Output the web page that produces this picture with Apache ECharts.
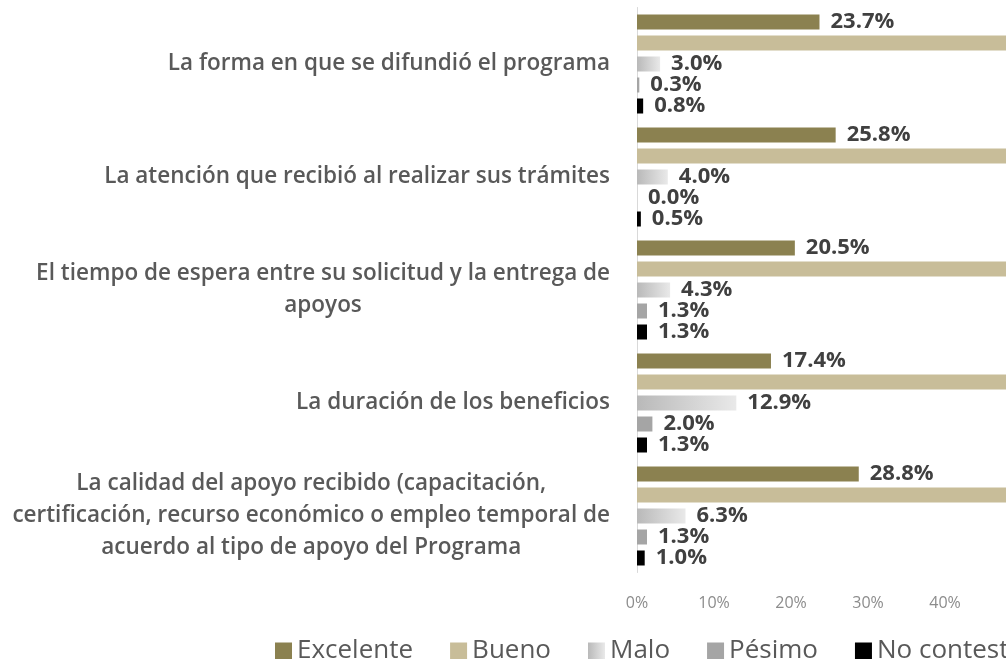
<!DOCTYPE html>
<html><head><meta charset="utf-8">
<script src="https://cdn.jsdelivr.net/npm/echarts@6/dist/echarts.min.js"></script>
<style>html,body{margin:0;padding:0;background:#fff;overflow:hidden;width:1006px;height:659px}#c{width:1253px;height:659px}</style>
</head><body><div id="c"></div>
<script>
const categories = [
  "La forma en que se difundió el programa",
  "La atención que recibió al realizar sus trámites",
  "El tiempo de espera entre su solicitud y la entrega de\napoyos",
  "La duración de los beneficios",
  "La calidad del apoyo recibido (capacitación,\ncertificación, recurso económico o empleo temporal de\nacuerdo al tipo de apoyo del Programa"
];
const seriesNames = ["Excelente", "Bueno", "Malo", "Pésimo", "No contesta"];
const excelente = [23.7, 25.8, 20.5, 17.4, 28.8];
const bueno = [72.2, 69.7, 72.6, 66.4, 62.6];
const malo = [3.0, 4.0, 4.3, 12.9, 6.3];
const pesimo = [0.3, 0.0, 1.3, 2.0, 1.3];
const noContesta = [0.8, 0.5, 1.3, 1.3, 1.0];
const xTicks = [0, 10, 20, 30, 40, 50, 60, 70, 80];

const FONT = "'Open Sans', 'DejaVu Sans', sans-serif";
const colors = [
  '#8b8150',
  '#c8bd99',
  new echarts.graphic.LinearGradient(0, 0, 1, 0, [{offset: 0, color: '#b9b9b9'}, {offset: 1, color: '#e9e9e9'}]),
  '#a5a5a5',
  '#000000'
];
const values = [excelente, bueno, malo, pesimo, noContesta];

const chart = echarts.init(document.getElementById('c'), null, {renderer: 'canvas'});
chart.setOption({
  animation: false,
  textStyle: {fontFamily: FONT},
  grid: {left: 637, right: 0, top: 7.5, bottom: 86.5, containLabel: false, outerBoundsMode: 'none'},
  legend: {
    data: seriesNames,
    left: 270, top: 633,
    itemWidth: 17, itemHeight: 17, itemGap: 37, icon: 'rect',
    textStyle: {fontFamily: FONT, fontSize: 26, color: '#595959'}
  },
  xAxis: {
    type: 'value', min: 0, max: xTicks[xTicks.length - 1], interval: 10,
    axisLine: {show: false}, axisTick: {show: false}, splitLine: {show: false},
    axisLabel: {formatter: v => v + '%', color: '#8c8c8c', fontSize: 16, fontFamily: FONT, margin: 23}
  },
  yAxis: {
    type: 'category', data: categories, inverse: true,
    axisLine: {show: true, lineStyle: {color: '#d9d9d9', width: 1}},
    axisTick: {show: false},
    axisLabel: {
      margin: 27, color: '#595959', fontSize: 22.5, fontWeight: 600, fontFamily: FONT, lineHeight: 32,
      formatter: v => v.split('\n').map(l => '{c|' + l + '}').join('\n'),
      rich: {c: {align: 'center', color: '#595959', fontSize: 22.5, fontWeight: 600, fontFamily: FONT, lineHeight: 32}}
    }
  },
  series: seriesNames.map((n, i) => ({
    name: n, type: 'bar', data: values[i], barWidth: 15, barGap: '40%',
    itemStyle: {color: colors[i]},
    label: {show: true, position: 'right', distance: 11, formatter: p => p.value.toFixed(1) + '%',
      color: '#404040', fontSize: 22, fontWeight: 'bold', fontFamily: FONT}
  }))
});
</script></body></html>
